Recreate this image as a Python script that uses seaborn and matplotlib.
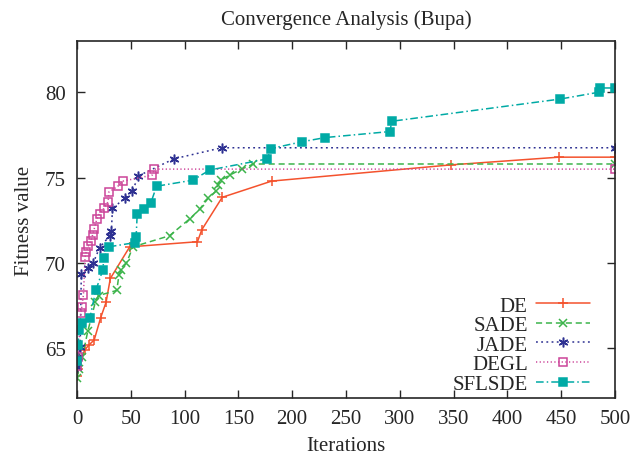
import matplotlib
matplotlib.use('Agg')
import matplotlib.pyplot as plt
import seaborn as sns
import pandas as pd

# convergence curves
de_x = [0, 1, 7, 11, 16, 22, 27, 31, 49, 112, 116, 135, 181, 348, 448, 500]
de_y = [63.4, 63.8, 64.9, 65.2, 65.5, 66.8, 67.7, 69.1, 70.95, 71.25, 71.95, 73.85, 74.8, 75.75, 76.2, 76.2]

sade_x = [0, 2, 5, 10, 17, 20, 37, 39, 41, 46, 52, 86, 105, 114, 122, 129, 131, 133.5, 142, 153, 164, 500]
sade_y = [63.3, 63.8, 64.5, 66.0, 67.7, 68.1, 68.4, 69.3, 69.6, 70.0, 70.95, 71.6, 72.6, 73.15, 73.8, 74.2,
          74.55, 74.85, 75.15, 75.5, 75.8, 75.8]

jade_x = [0, 1, 3, 4, 10.5, 15, 21, 30.5, 32, 33, 44.5, 51.5, 57, 90, 134.5, 500]
jade_y = [63.9, 64.5, 65.1, 69.35, 69.7, 70.0, 70.9, 71.6, 71.9, 73.2, 73.8, 74.2, 75.1, 76.1, 76.75, 76.75]

degl_x = [0, 1, 3.5, 4.5, 6, 7.5, 8.5, 10.5, 13, 14.5, 16, 18.5, 21, 25, 29, 29.5, 38, 43, 70, 72, 500]
degl_y = [63.95, 64.5, 67.05, 67.45, 68.15, 70.35, 70.65, 71.0, 71.3, 71.65, 72.0, 72.6, 72.9, 73.2, 73.6,
          74.15, 74.5, 74.8, 75.15, 75.5, 75.5]

sflsde_x = [0, 1, 2, 5, 12, 17.5, 24, 25, 29.5, 54, 55, 56, 62, 68.5, 74, 107.5, 123.5, 177, 180, 209, 231,
            291, 292.5, 449, 485, 486, 500]
sflsde_y = [64.25, 65.2, 66.1, 66.5, 66.8, 68.4, 69.6, 70.3, 70.95, 71.2, 71.55, 72.9, 73.15, 73.5, 74.5, 74.85,
            75.45, 76.1, 76.7, 77.1, 77.35, 77.7, 78.3, 79.6, 80.0, 80.25, 80.25]

x_ticks = [0, 50, 100, 150, 200, 250, 300, 350, 400, 450, 500]
y_ticks = [65, 70, 75, 80]

sns.set_style('ticks')
plt.rcParams['font.family'] = ['Liberation Serif', 'DejaVu Serif']

fig = plt.figure(figsize=(6.3, 4.64), dpi=100)
ax = fig.add_axes([0.1222, 0.14, 0.8538, 0.7695])

series = [
    ('DE', de_x, de_y, '#F4522D', dict(linestyle='-', marker='+', markersize=7)),
    ('SADE', sade_x, sade_y, '#3CB44B', dict(linestyle=(0, (4, 2.5)), marker='x', markersize=6)),
    ('JADE', jade_x, jade_y, '#2E3192', dict(linestyle=(0, (1.2, 2.2)), marker=(6, 2, 0), markersize=7)),
    ('DEGL', degl_x, degl_y, '#CC4499', dict(linestyle=(0, (0.8, 1.6)), marker='s', markersize=6,
                                             markerfacecolor='none')),
    ('SFLSDE', sflsde_x, sflsde_y, '#00AAA5', dict(linestyle=(0, (5, 2, 1, 2)), marker='s', markersize=5.5)),
]

for name, xs, ys, col, style in series:
    df = pd.DataFrame({'x': xs, 'y': ys})
    sns.lineplot(data=df, x='x', y='y', ax=ax, estimator=None, sort=False, linewidth=1.1, label=name,
                 color=col, markeredgecolor=col, markeredgewidth=1.1, **style)

ax.set_xlim(0, 500)
ax.set_ylim(62.1, 83.0)
ax.set_xticks(x_ticks)
ax.set_yticks(y_ticks)
ax.tick_params(direction='in', length=6, width=1, top=True, right=True, labelsize=15, pad=8)
for sp in ax.spines.values():
    sp.set_linewidth(1.2)
    sp.set_visible(True)

ax.set_title('Convergence Analysis (Bupa)', fontsize=15, pad=12)
ax.set_xlabel('Iterations', fontsize=15, labelpad=6)
ax.set_ylabel('Fitness value', fontsize=15, labelpad=8)

ax.legend(loc='lower right', markerfirst=False, frameon=False, fontsize=15, handlelength=2.6,
          handletextpad=0.4, labelspacing=0.0, borderaxespad=0.4, bbox_to_anchor=(0.985, -0.035))

fig.savefig('out.png', dpi=100)
